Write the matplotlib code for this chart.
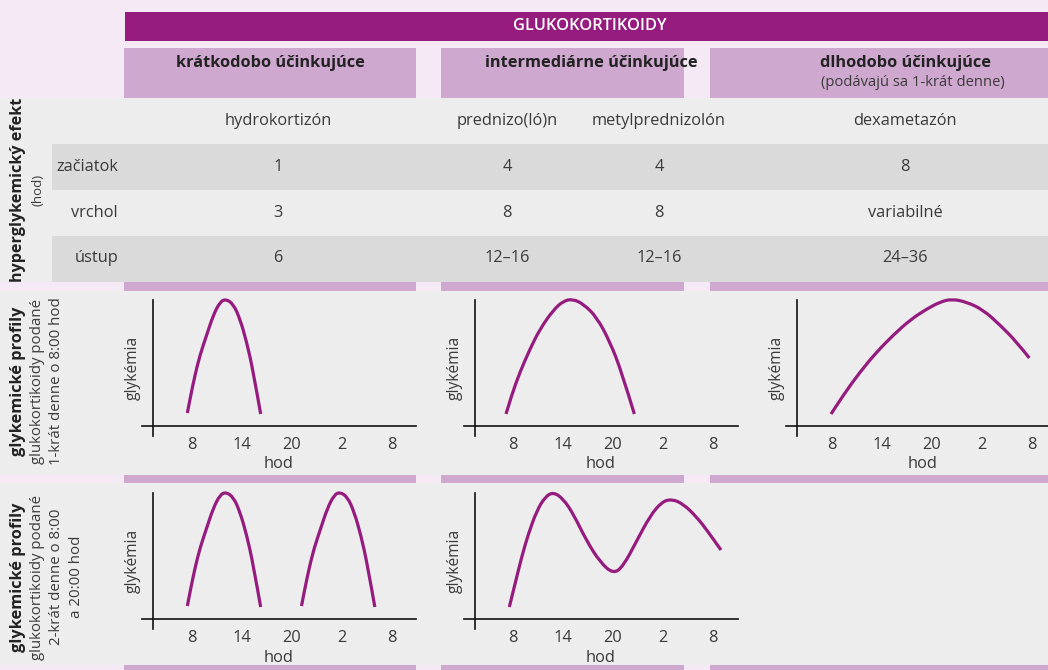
import matplotlib.pyplot as plt
from matplotlib.patches import Rectangle, PathPatch
from matplotlib.path import Path

plt.rcParams['font.family'] = ['Open Sans', 'DejaVu Sans']

# --- data ---
title = 'GLUKOKORTIKOIDY'
groups = ['krátkodobo účinkujúce', 'intermediárne účinkujúce', 'dlhodobo účinkujúce']
group_note = '(podávajú sa 1-krát denne)'
drugs = ['hydrokortizón', 'prednizo(ló)n', 'metylprednizolón', 'dexametazón']
row_labels = ['začiatok', 'vrchol', 'ústup']
zaciatok = ['1', '4', '4', '8']
vrchol = ['3', '8', '8', 'variabilné']
ustup = ['6', '12–16', '12–16', '24–36']

tick_hours = [8, 14, 20, 26, 32]
tick_labels = ['8', '14', '20', '2', '8']

# glykemicke krivky (hodiny, glykemia v rel. jednotkach)
hydro_h = [7.44, 7.76, 8.36, 8.96, 9.76, 10.56, 11.36, 12.04, 12.96, 13.76, 14.56, 15.36, 16.24]
hydro_g = [13, 27, 51, 71, 91, 111, 124, 127, 122, 107, 84, 54, 12]
hydro2_h = [21.14, 21.46, 22.06, 22.66, 23.46, 24.26, 25.06, 25.74, 26.66, 27.46, 28.26, 29.06, 29.94]
hydro2_g = [13, 27, 51, 71, 91, 111, 124, 127, 122, 107, 84, 54, 12]
pred_h = [7.16, 7.84, 8.84, 10.04, 11.24, 12.84, 14.04, 15.16, 16.44, 18.04, 19.64, 21.04, 22.56]
pred_g = [12, 31, 54, 77, 97, 116, 125, 127, 122, 109, 84, 54, 12]
dexa_h = [7.88, 9.36, 11.36, 13.36, 15.36, 17.36, 19.36, 20.96, 22.36, 24.16, 26.16, 28.16, 30.16, 31.68]
dexa_g = [12, 31, 54, 74, 91, 106, 117, 124, 127, 124, 116, 101, 84, 68]
pred2_h = [7.56, 8.24, 9.04, 9.84, 10.84, 11.84, 12.84, 14.04, 15.24, 16.84, 18.44, 20.04,
           21.24, 22.84, 24.44, 25.84, 27.04, 28.44, 30.04, 31.44, 32.96]
pred2_g = [12, 35, 62, 85, 108, 122, 127, 120, 105, 78, 57, 45, 53, 78, 103, 117, 120, 115, 102, 87, 69]

# --- farby ---
PURPLE = '#951b7e'
LILAC = '#cfa8d0'
PAGE = '#f5e9f5'
LIGHT = '#ededed'
DARK = '#dadada'
TXT = '#3a3a3a'
HEAD = '#222222'
FS = 11.8

W, H = 1048, 670
fig = plt.figure(figsize=(W / 100, H / 100), dpi=100)
fig.patch.set_facecolor(PAGE)
bg = fig.add_axes([0, 0, 1, 1])
bg.set_xlim(0, W)
bg.set_ylim(H, 0)
bg.axis('off')


def box(x0, y0, x1, y1, c):
    bg.add_patch(Rectangle((x0, y0), x1 - x0, y1 - y0, facecolor=c, edgecolor='none'))


cols = [(124, 416), (441, 684), (710, 1048)]

# hlavicka
box(125, 12, W, 41, PURPLE)
bg.text(590, 26.5, title, color='white', fontsize=FS, fontweight='semibold', ha='center', va='center')
for (x0, x1) in cols:
    box(x0, 48, x1, 98, LILAC)
head_x = [270, 591, 905]
for gx, g in zip(head_x, groups):
    bg.text(gx, 63, g, fontsize=FS, fontweight='bold', color=HEAD, ha='center', va='center')
bg.text(913, 82, group_note, fontsize=10.6, color=TXT, ha='center', va='center')

# tabulka
box(0, 98, W, 282, LIGHT)
box(52, 144, W, 190, DARK)
box(52, 236, W, 282, DARK)
val_x = [278, 507, 659, 905]
row_y = [167, 213, 258]
for vx, d in zip(val_x, drugs):
    bg.text(vx, 121, d, fontsize=FS, color=TXT, ha='center', va='center')
for ry, lab, vals in zip(row_y, row_labels, [zaciatok, vrchol, ustup]):
    bg.text(118, ry, lab, fontsize=FS, color=TXT, ha='right', va='center')
    for vx, v in zip(val_x, vals):
        bg.text(vx, ry, v, fontsize=FS, color=TXT, ha='center', va='center')
bg.text(18, 190, 'hyperglykemický efekt', fontsize=11.6, fontweight='bold', color=HEAD,
        rotation=90, ha='center', va='center')
bg.text(38, 190, '(hod)', fontsize=9.5, color=TXT, rotation=90, ha='center', va='center')

# pasy a sede plochy profilov
box(0, 291, W, 475, LIGHT)
box(0, 483, W, 665, LIGHT)
for (x0, x1) in cols:
    box(x0, 282, x1, 291, LILAC)
    box(x0, 475, x1, 483, LILAC)
    box(x0, 665, x1, H, LILAC)

row_text = [
    (381, ['glukokortikoidy podané', '1-krát denne o 8:00 hod']),
    (577, ['glukokortikoidy podané', '2-krát denne o 8:00', 'a 20:00 hod']),
]
for cy, lines in row_text:
    bg.text(18, cy, 'glykemické profily', fontsize=11.8, fontweight='bold', color=HEAD,
            rotation=90, ha='center', va='center')
    for i, ln in enumerate(lines):
        bg.text(38 + 19 * i, cy, ln, fontsize=10.8, color=TXT, rotation=90, ha='center', va='center')

# --- grafy ---
px_h = 50 / 6.0  # px na hodinu
col_left = [142, 464, 786]
col_p8 = [192, 513, 832]
col_yaxis = [153, 475, 797]
row_axis = [426, 619]


def smooth_path(hh, gg):
    # body su riadiace body kvadratickych bezierovych kriviek
    verts = [(hh[0], gg[0])]
    codes = [Path.MOVETO]
    for i in range(1, len(hh) - 1):
        mx = (hh[i] + hh[i + 1]) / 2
        my = (gg[i] + gg[i + 1]) / 2
        if i == len(hh) - 2:
            mx, my = hh[-1], gg[-1]
        verts += [(hh[i], gg[i]), (mx, my)]
        codes += [Path.CURVE3, Path.CURVE3]
    return Path(verts, codes)


def panel(ci, ri, curves):
    left = col_left[ci]
    top = row_axis[ri] - 126
    ax = fig.add_axes([left / W, 1 - (top + 136) / H, 274 / W, 136 / H])
    ax.patch.set_alpha(0)
    h0 = 8 - (col_p8[ci] - left) / px_h
    ax.set_xlim(h0, h0 + 274 / px_h)
    ax.set_ylim(-10, 126)
    for s in ['top', 'right']:
        ax.spines[s].set_visible(False)
    ax.spines['bottom'].set_position(('data', 0))
    ax.spines['left'].set_position(('data', 8 - (col_p8[ci] - col_yaxis[ci]) / px_h))
    for s in ['bottom', 'left']:
        ax.spines[s].set_color('#111111')
        ax.spines[s].set_linewidth(1.2)
    ax.set_xticks(tick_hours)
    ax.set_xticklabels(tick_labels, fontsize=FS, color=TXT)
    ax.set_yticks([])
    ax.tick_params(axis='x', length=0, pad=8)
    ax.set_xlabel('hod', fontsize=FS, color=TXT)
    ax.xaxis.set_label_coords(0.5, -28.5 / 136)
    ax.xaxis.label.set_va('center')
    ax.set_ylabel('glykémia', fontsize=11.2, color=TXT)
    ax.yaxis.set_label_coords((col_yaxis[ci] - 20 - left) / 274, 0.5)
    ax.yaxis.label.set_va('center')
    for hh, gg in curves:
        ax.add_patch(PathPatch(smooth_path(hh, gg), facecolor='none', edgecolor=PURPLE,
                               lw=2.3, capstyle='butt', clip_on=False))
    return ax


panel(0, 0, [(hydro_h, hydro_g)])
panel(1, 0, [(pred_h, pred_g)])
panel(2, 0, [(dexa_h, dexa_g)])
panel(0, 1, [(hydro_h, hydro_g), (hydro2_h, hydro2_g)])
panel(1, 1, [(pred2_h, pred2_g)])

fig.savefig('out.png', dpi=100, facecolor=fig.get_facecolor())
